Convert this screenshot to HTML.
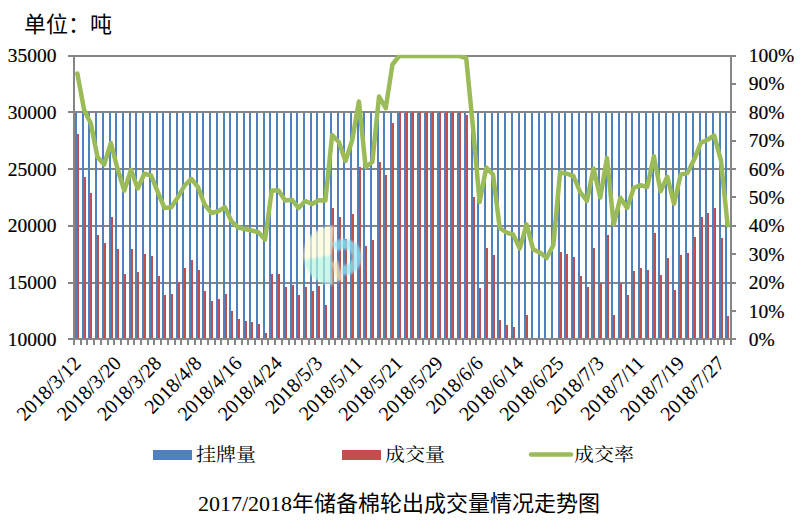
<!DOCTYPE html>
<html><head><meta charset="utf-8"><title>chart</title>
<style>html,body{margin:0;padding:0;background:#fff;}body{width:802px;height:528px;overflow:hidden;}svg{display:block;}</style>
</head><body>
<svg width="802" height="528" viewBox="0 0 802 528">
<rect width="802" height="528" fill="#fff"/>
<rect x="68" y="55" width="664" height="2" fill="#868686"/><rect x="68" y="111" width="664" height="2" fill="#868686"/><rect x="68" y="168" width="664" height="2" fill="#868686"/><rect x="68" y="225" width="664" height="2" fill="#868686"/><rect x="68" y="282" width="664" height="2" fill="#868686"/>
<rect x="75" y="113" width="2" height="225" fill="#4F81BD"/><rect x="77" y="134" width="2" height="204" fill="#C0504D"/><rect x="82" y="113" width="2" height="225" fill="#4F81BD"/><rect x="84" y="177" width="2" height="161" fill="#C0504D"/><rect x="88" y="113" width="2" height="225" fill="#4F81BD"/><rect x="90" y="193" width="2" height="145" fill="#C0504D"/><rect x="95" y="113" width="2" height="225" fill="#4F81BD"/><rect x="97" y="235" width="2" height="103" fill="#C0504D"/><rect x="102" y="113" width="2" height="225" fill="#4F81BD"/><rect x="104" y="243" width="2" height="95" fill="#C0504D"/><rect x="109" y="113" width="2" height="225" fill="#4F81BD"/><rect x="111" y="217" width="2" height="121" fill="#C0504D"/><rect x="115" y="113" width="2" height="225" fill="#4F81BD"/><rect x="117" y="249" width="2" height="89" fill="#C0504D"/><rect x="122" y="113" width="2" height="225" fill="#4F81BD"/><rect x="124" y="274" width="2" height="64" fill="#C0504D"/><rect x="129" y="113" width="2" height="225" fill="#4F81BD"/><rect x="131" y="249" width="2" height="89" fill="#C0504D"/><rect x="135" y="113" width="2" height="225" fill="#4F81BD"/><rect x="137" y="272" width="2" height="66" fill="#C0504D"/><rect x="142" y="113" width="2" height="225" fill="#4F81BD"/><rect x="144" y="254" width="2" height="84" fill="#C0504D"/><rect x="149" y="113" width="2" height="225" fill="#4F81BD"/><rect x="151" y="256" width="2" height="82" fill="#C0504D"/><rect x="156" y="113" width="2" height="225" fill="#4F81BD"/><rect x="158" y="276" width="2" height="62" fill="#C0504D"/><rect x="162" y="113" width="2" height="225" fill="#4F81BD"/><rect x="164" y="295" width="2" height="43" fill="#C0504D"/><rect x="169" y="113" width="2" height="225" fill="#4F81BD"/><rect x="171" y="294" width="2" height="44" fill="#C0504D"/><rect x="176" y="113" width="2" height="225" fill="#4F81BD"/><rect x="178" y="282" width="2" height="56" fill="#C0504D"/><rect x="182" y="113" width="2" height="225" fill="#4F81BD"/><rect x="184" y="268" width="2" height="70" fill="#C0504D"/><rect x="189" y="113" width="2" height="225" fill="#4F81BD"/><rect x="191" y="260" width="2" height="78" fill="#C0504D"/><rect x="196" y="113" width="2" height="225" fill="#4F81BD"/><rect x="198" y="270" width="2" height="68" fill="#C0504D"/><rect x="202" y="113" width="2" height="225" fill="#4F81BD"/><rect x="204" y="291" width="2" height="47" fill="#C0504D"/><rect x="209" y="113" width="2" height="225" fill="#4F81BD"/><rect x="211" y="301" width="2" height="37" fill="#C0504D"/><rect x="216" y="113" width="2" height="225" fill="#4F81BD"/><rect x="218" y="299" width="2" height="39" fill="#C0504D"/><rect x="223" y="113" width="2" height="225" fill="#4F81BD"/><rect x="225" y="294" width="2" height="44" fill="#C0504D"/><rect x="229" y="113" width="2" height="225" fill="#4F81BD"/><rect x="231" y="311" width="2" height="27" fill="#C0504D"/><rect x="236" y="113" width="2" height="225" fill="#4F81BD"/><rect x="238" y="319" width="2" height="19" fill="#C0504D"/><rect x="243" y="113" width="2" height="225" fill="#4F81BD"/><rect x="245" y="321" width="2" height="17" fill="#C0504D"/><rect x="249" y="113" width="2" height="225" fill="#4F81BD"/><rect x="251" y="322" width="2" height="16" fill="#C0504D"/><rect x="256" y="113" width="2" height="225" fill="#4F81BD"/><rect x="258" y="324" width="2" height="14" fill="#C0504D"/><rect x="263" y="113" width="2" height="225" fill="#4F81BD"/><rect x="265" y="333" width="2" height="5" fill="#C0504D"/><rect x="269" y="113" width="2" height="225" fill="#4F81BD"/><rect x="271" y="274" width="2" height="64" fill="#C0504D"/><rect x="276" y="113" width="2" height="225" fill="#4F81BD"/><rect x="278" y="274" width="2" height="64" fill="#C0504D"/><rect x="283" y="113" width="2" height="225" fill="#4F81BD"/><rect x="285" y="287" width="2" height="51" fill="#C0504D"/><rect x="290" y="113" width="2" height="225" fill="#4F81BD"/><rect x="292" y="285" width="2" height="53" fill="#C0504D"/><rect x="296" y="113" width="2" height="225" fill="#4F81BD"/><rect x="298" y="295" width="2" height="43" fill="#C0504D"/><rect x="303" y="113" width="2" height="225" fill="#4F81BD"/><rect x="305" y="287" width="2" height="51" fill="#C0504D"/><rect x="310" y="113" width="2" height="225" fill="#4F81BD"/><rect x="312" y="291" width="2" height="47" fill="#C0504D"/><rect x="316" y="113" width="2" height="225" fill="#4F81BD"/><rect x="318" y="286" width="2" height="52" fill="#C0504D"/><rect x="323" y="113" width="2" height="225" fill="#4F81BD"/><rect x="325" y="305" width="2" height="33" fill="#C0504D"/><rect x="330" y="113" width="2" height="225" fill="#4F81BD"/><rect x="332" y="208" width="2" height="130" fill="#C0504D"/><rect x="337" y="113" width="2" height="225" fill="#4F81BD"/><rect x="339" y="217" width="2" height="121" fill="#C0504D"/><rect x="343" y="113" width="2" height="225" fill="#4F81BD"/><rect x="345" y="239" width="2" height="99" fill="#C0504D"/><rect x="350" y="113" width="2" height="225" fill="#4F81BD"/><rect x="352" y="214" width="2" height="124" fill="#C0504D"/><rect x="357" y="113" width="2" height="225" fill="#4F81BD"/><rect x="359" y="167" width="2" height="171" fill="#C0504D"/><rect x="363" y="113" width="2" height="225" fill="#4F81BD"/><rect x="365" y="246" width="2" height="92" fill="#C0504D"/><rect x="370" y="113" width="2" height="225" fill="#4F81BD"/><rect x="372" y="240" width="2" height="98" fill="#C0504D"/><rect x="377" y="113" width="2" height="225" fill="#4F81BD"/><rect x="379" y="162" width="2" height="176" fill="#C0504D"/><rect x="383" y="113" width="2" height="225" fill="#4F81BD"/><rect x="385" y="175" width="2" height="163" fill="#C0504D"/><rect x="390" y="113" width="2" height="225" fill="#4F81BD"/><rect x="392" y="123" width="2" height="215" fill="#C0504D"/><rect x="397" y="113" width="2" height="225" fill="#4F81BD"/><rect x="399" y="112" width="2" height="226" fill="#C0504D"/><rect x="404" y="113" width="2" height="225" fill="#4F81BD"/><rect x="406" y="112" width="2" height="226" fill="#C0504D"/><rect x="410" y="113" width="2" height="225" fill="#4F81BD"/><rect x="412" y="112" width="2" height="226" fill="#C0504D"/><rect x="417" y="113" width="2" height="225" fill="#4F81BD"/><rect x="419" y="112" width="2" height="226" fill="#C0504D"/><rect x="424" y="113" width="2" height="225" fill="#4F81BD"/><rect x="426" y="112" width="2" height="226" fill="#C0504D"/><rect x="430" y="113" width="2" height="225" fill="#4F81BD"/><rect x="432" y="112" width="2" height="226" fill="#C0504D"/><rect x="437" y="113" width="2" height="225" fill="#4F81BD"/><rect x="439" y="112" width="2" height="226" fill="#C0504D"/><rect x="444" y="113" width="2" height="225" fill="#4F81BD"/><rect x="446" y="112" width="2" height="226" fill="#C0504D"/><rect x="450" y="113" width="2" height="225" fill="#4F81BD"/><rect x="452" y="112" width="2" height="226" fill="#C0504D"/><rect x="457" y="113" width="2" height="225" fill="#4F81BD"/><rect x="459" y="112" width="2" height="226" fill="#C0504D"/><rect x="464" y="113" width="2" height="225" fill="#4F81BD"/><rect x="466" y="115" width="2" height="223" fill="#C0504D"/><rect x="471" y="113" width="2" height="225" fill="#4F81BD"/><rect x="473" y="197" width="2" height="141" fill="#C0504D"/><rect x="477" y="113" width="2" height="225" fill="#4F81BD"/><rect x="479" y="288" width="2" height="50" fill="#C0504D"/><rect x="484" y="113" width="2" height="225" fill="#4F81BD"/><rect x="486" y="248" width="2" height="90" fill="#C0504D"/><rect x="491" y="113" width="2" height="225" fill="#4F81BD"/><rect x="493" y="255" width="2" height="83" fill="#C0504D"/><rect x="497" y="113" width="2" height="225" fill="#4F81BD"/><rect x="499" y="320" width="2" height="18" fill="#C0504D"/><rect x="504" y="113" width="2" height="225" fill="#4F81BD"/><rect x="506" y="325" width="2" height="13" fill="#C0504D"/><rect x="511" y="113" width="2" height="225" fill="#4F81BD"/><rect x="513" y="327" width="2" height="11" fill="#C0504D"/><rect x="518" y="113" width="2" height="225" fill="#4F81BD"/><rect x="524" y="113" width="2" height="225" fill="#4F81BD"/><rect x="526" y="315" width="2" height="23" fill="#C0504D"/><rect x="531" y="113" width="2" height="225" fill="#4F81BD"/><rect x="538" y="113" width="2" height="225" fill="#4F81BD"/><rect x="544" y="113" width="2" height="225" fill="#4F81BD"/><rect x="551" y="113" width="2" height="225" fill="#4F81BD"/><rect x="558" y="113" width="2" height="225" fill="#4F81BD"/><rect x="560" y="252" width="2" height="86" fill="#C0504D"/><rect x="564" y="113" width="2" height="225" fill="#4F81BD"/><rect x="566" y="254" width="2" height="84" fill="#C0504D"/><rect x="571" y="113" width="2" height="225" fill="#4F81BD"/><rect x="573" y="257" width="2" height="81" fill="#C0504D"/><rect x="578" y="113" width="2" height="225" fill="#4F81BD"/><rect x="580" y="276" width="2" height="62" fill="#C0504D"/><rect x="585" y="113" width="2" height="225" fill="#4F81BD"/><rect x="587" y="287" width="2" height="51" fill="#C0504D"/><rect x="591" y="113" width="2" height="225" fill="#4F81BD"/><rect x="593" y="248" width="2" height="90" fill="#C0504D"/><rect x="598" y="113" width="2" height="225" fill="#4F81BD"/><rect x="600" y="283" width="2" height="55" fill="#C0504D"/><rect x="605" y="113" width="2" height="225" fill="#4F81BD"/><rect x="607" y="235" width="2" height="103" fill="#C0504D"/><rect x="611" y="113" width="2" height="225" fill="#4F81BD"/><rect x="613" y="315" width="2" height="23" fill="#C0504D"/><rect x="618" y="113" width="2" height="225" fill="#4F81BD"/><rect x="620" y="283" width="2" height="55" fill="#C0504D"/><rect x="625" y="113" width="2" height="225" fill="#4F81BD"/><rect x="627" y="295" width="2" height="43" fill="#C0504D"/><rect x="631" y="113" width="2" height="225" fill="#4F81BD"/><rect x="633" y="271" width="2" height="67" fill="#C0504D"/><rect x="638" y="113" width="2" height="225" fill="#4F81BD"/><rect x="640" y="268" width="2" height="70" fill="#C0504D"/><rect x="645" y="113" width="2" height="225" fill="#4F81BD"/><rect x="647" y="270" width="2" height="68" fill="#C0504D"/><rect x="652" y="113" width="2" height="225" fill="#4F81BD"/><rect x="654" y="233" width="2" height="105" fill="#C0504D"/><rect x="658" y="113" width="2" height="225" fill="#4F81BD"/><rect x="660" y="275" width="2" height="63" fill="#C0504D"/><rect x="665" y="113" width="2" height="225" fill="#4F81BD"/><rect x="667" y="258" width="2" height="80" fill="#C0504D"/><rect x="672" y="113" width="2" height="225" fill="#4F81BD"/><rect x="674" y="290" width="2" height="48" fill="#C0504D"/><rect x="678" y="113" width="2" height="225" fill="#4F81BD"/><rect x="680" y="255" width="2" height="83" fill="#C0504D"/><rect x="685" y="113" width="2" height="225" fill="#4F81BD"/><rect x="687" y="253" width="2" height="85" fill="#C0504D"/><rect x="692" y="113" width="2" height="225" fill="#4F81BD"/><rect x="694" y="237" width="2" height="101" fill="#C0504D"/><rect x="699" y="113" width="2" height="225" fill="#4F81BD"/><rect x="701" y="217" width="2" height="121" fill="#C0504D"/><rect x="705" y="113" width="2" height="225" fill="#4F81BD"/><rect x="707" y="213" width="2" height="125" fill="#C0504D"/><rect x="712" y="113" width="2" height="225" fill="#4F81BD"/><rect x="714" y="208" width="2" height="130" fill="#C0504D"/><rect x="719" y="113" width="2" height="225" fill="#4F81BD"/><rect x="721" y="238" width="2" height="100" fill="#C0504D"/><rect x="725" y="113" width="2" height="225" fill="#4F81BD"/><rect x="727" y="316" width="2" height="22" fill="#C0504D"/>
<filter id="bl" x="-20%" y="-20%" width="140%" height="140%"><feGaussianBlur stdDeviation="1.2"/></filter>
<g opacity="0.72" filter="url(#bl)"><path d="M334,226 A29,29 0 0,0 304,260 L332,255 Z" fill="#fffbd8"/><path d="M304,260 A29,29 0 0,0 333,285 L332,255 Z" fill="#b5f5e0"/><path d="M334.8,247.8 A13,13 0 1,1 341.7,269.8" fill="none" stroke="#8fe6f7" stroke-width="10"/><path d="M335,262 L340,281" fill="none" stroke="#ffe2b0" stroke-width="6"/></g>
<rect x="73" y="55" width="2" height="285" fill="#868686"/><rect x="730" y="55" width="2" height="285" fill="#868686"/><rect x="68" y="338" width="668" height="2" fill="#868686"/><rect x="73" y="340" width="2" height="5" fill="#868686"/><rect x="80" y="340" width="2" height="5" fill="#868686"/><rect x="86" y="340" width="2" height="5" fill="#868686"/><rect x="93" y="340" width="2" height="5" fill="#868686"/><rect x="100" y="340" width="2" height="5" fill="#868686"/><rect x="107" y="340" width="2" height="5" fill="#868686"/><rect x="113" y="340" width="2" height="5" fill="#868686"/><rect x="120" y="340" width="2" height="5" fill="#868686"/><rect x="127" y="340" width="2" height="5" fill="#868686"/><rect x="133" y="340" width="2" height="5" fill="#868686"/><rect x="140" y="340" width="2" height="5" fill="#868686"/><rect x="147" y="340" width="2" height="5" fill="#868686"/><rect x="153" y="340" width="2" height="5" fill="#868686"/><rect x="160" y="340" width="2" height="5" fill="#868686"/><rect x="167" y="340" width="2" height="5" fill="#868686"/><rect x="174" y="340" width="2" height="5" fill="#868686"/><rect x="180" y="340" width="2" height="5" fill="#868686"/><rect x="187" y="340" width="2" height="5" fill="#868686"/><rect x="194" y="340" width="2" height="5" fill="#868686"/><rect x="200" y="340" width="2" height="5" fill="#868686"/><rect x="207" y="340" width="2" height="5" fill="#868686"/><rect x="214" y="340" width="2" height="5" fill="#868686"/><rect x="220" y="340" width="2" height="5" fill="#868686"/><rect x="227" y="340" width="2" height="5" fill="#868686"/><rect x="234" y="340" width="2" height="5" fill="#868686"/><rect x="241" y="340" width="2" height="5" fill="#868686"/><rect x="247" y="340" width="2" height="5" fill="#868686"/><rect x="254" y="340" width="2" height="5" fill="#868686"/><rect x="261" y="340" width="2" height="5" fill="#868686"/><rect x="267" y="340" width="2" height="5" fill="#868686"/><rect x="274" y="340" width="2" height="5" fill="#868686"/><rect x="281" y="340" width="2" height="5" fill="#868686"/><rect x="288" y="340" width="2" height="5" fill="#868686"/><rect x="294" y="340" width="2" height="5" fill="#868686"/><rect x="301" y="340" width="2" height="5" fill="#868686"/><rect x="308" y="340" width="2" height="5" fill="#868686"/><rect x="314" y="340" width="2" height="5" fill="#868686"/><rect x="321" y="340" width="2" height="5" fill="#868686"/><rect x="328" y="340" width="2" height="5" fill="#868686"/><rect x="334" y="340" width="2" height="5" fill="#868686"/><rect x="341" y="340" width="2" height="5" fill="#868686"/><rect x="348" y="340" width="2" height="5" fill="#868686"/><rect x="355" y="340" width="2" height="5" fill="#868686"/><rect x="361" y="340" width="2" height="5" fill="#868686"/><rect x="368" y="340" width="2" height="5" fill="#868686"/><rect x="375" y="340" width="2" height="5" fill="#868686"/><rect x="381" y="340" width="2" height="5" fill="#868686"/><rect x="388" y="340" width="2" height="5" fill="#868686"/><rect x="395" y="340" width="2" height="5" fill="#868686"/><rect x="401" y="340" width="2" height="5" fill="#868686"/><rect x="408" y="340" width="2" height="5" fill="#868686"/><rect x="415" y="340" width="2" height="5" fill="#868686"/><rect x="422" y="340" width="2" height="5" fill="#868686"/><rect x="428" y="340" width="2" height="5" fill="#868686"/><rect x="435" y="340" width="2" height="5" fill="#868686"/><rect x="442" y="340" width="2" height="5" fill="#868686"/><rect x="448" y="340" width="2" height="5" fill="#868686"/><rect x="455" y="340" width="2" height="5" fill="#868686"/><rect x="462" y="340" width="2" height="5" fill="#868686"/><rect x="469" y="340" width="2" height="5" fill="#868686"/><rect x="475" y="340" width="2" height="5" fill="#868686"/><rect x="482" y="340" width="2" height="5" fill="#868686"/><rect x="489" y="340" width="2" height="5" fill="#868686"/><rect x="495" y="340" width="2" height="5" fill="#868686"/><rect x="502" y="340" width="2" height="5" fill="#868686"/><rect x="509" y="340" width="2" height="5" fill="#868686"/><rect x="515" y="340" width="2" height="5" fill="#868686"/><rect x="522" y="340" width="2" height="5" fill="#868686"/><rect x="529" y="340" width="2" height="5" fill="#868686"/><rect x="536" y="340" width="2" height="5" fill="#868686"/><rect x="542" y="340" width="2" height="5" fill="#868686"/><rect x="549" y="340" width="2" height="5" fill="#868686"/><rect x="556" y="340" width="2" height="5" fill="#868686"/><rect x="562" y="340" width="2" height="5" fill="#868686"/><rect x="569" y="340" width="2" height="5" fill="#868686"/><rect x="576" y="340" width="2" height="5" fill="#868686"/><rect x="583" y="340" width="2" height="5" fill="#868686"/><rect x="589" y="340" width="2" height="5" fill="#868686"/><rect x="596" y="340" width="2" height="5" fill="#868686"/><rect x="603" y="340" width="2" height="5" fill="#868686"/><rect x="609" y="340" width="2" height="5" fill="#868686"/><rect x="616" y="340" width="2" height="5" fill="#868686"/><rect x="623" y="340" width="2" height="5" fill="#868686"/><rect x="629" y="340" width="2" height="5" fill="#868686"/><rect x="636" y="340" width="2" height="5" fill="#868686"/><rect x="643" y="340" width="2" height="5" fill="#868686"/><rect x="650" y="340" width="2" height="5" fill="#868686"/><rect x="656" y="340" width="2" height="5" fill="#868686"/><rect x="663" y="340" width="2" height="5" fill="#868686"/><rect x="670" y="340" width="2" height="5" fill="#868686"/><rect x="676" y="340" width="2" height="5" fill="#868686"/><rect x="683" y="340" width="2" height="5" fill="#868686"/><rect x="690" y="340" width="2" height="5" fill="#868686"/><rect x="696" y="340" width="2" height="5" fill="#868686"/><rect x="703" y="340" width="2" height="5" fill="#868686"/><rect x="710" y="340" width="2" height="5" fill="#868686"/><rect x="717" y="340" width="2" height="5" fill="#868686"/><rect x="723" y="340" width="2" height="5" fill="#868686"/><rect x="730" y="340" width="2" height="5" fill="#868686"/><rect x="732" y="55" width="4" height="2" fill="#868686"/><rect x="732" y="83" width="4" height="2" fill="#868686"/><rect x="732" y="111" width="4" height="2" fill="#868686"/><rect x="732" y="140" width="4" height="2" fill="#868686"/><rect x="732" y="168" width="4" height="2" fill="#868686"/><rect x="732" y="196" width="4" height="2" fill="#868686"/><rect x="732" y="225" width="4" height="2" fill="#868686"/><rect x="732" y="253" width="4" height="2" fill="#868686"/><rect x="732" y="282" width="4" height="2" fill="#868686"/><rect x="732" y="310" width="4" height="2" fill="#868686"/>
<clipPath id="pc"><rect x="60" y="54.7" width="700" height="300"/></clipPath>
<polyline clip-path="url(#pc)" points="77.35,73.5 84.06,109.7 90.76,123.2 97.46,157 104.17,164.5 110.87,143 117.58,169 124.28,190.5 130.98,169.7 137.69,188.5 144.39,173.8 151.10,175.5 157.80,192.2 164.51,208 171.21,207.2 177.91,197.2 184.62,185.5 191.32,178.8 198.03,187.2 204.73,204.7 211.43,213 218.14,211.3 224.84,207.2 231.55,221.3 238.25,227.5 244.95,229 251.66,230.5 258.36,232.2 265.07,239.5 271.77,190.5 278.47,190.5 285.18,200.5 291.88,199.7 298.59,208 305.29,201 311.99,204 318.70,200.3 325.40,200.5 332.11,135 338.81,142 345.52,161 352.22,140 358.92,101.5 365.63,167 372.33,162 379.04,96.5 385.74,108.2 392.44,64.5 399.15,56 405.85,56 412.56,56 419.26,56 425.96,56 432.67,56 439.37,56 446.08,56 452.78,56 459.48,56 466.19,58 472.89,126.5 479.60,202 486.30,167.5 493.01,174.5 499.71,228 506.41,232.5 513.12,234.5 519.82,248.5 526.53,224.5 533.23,249.5 539.93,252.5 546.64,258 553.34,245 560.05,172.5 566.75,173.7 573.45,176 580.16,192 586.86,201 593.57,168.5 600.27,197.5 606.97,158 613.68,224.4 620.38,197.8 627.09,208 633.79,188 640.49,185.2 647.20,187 653.90,156.3 660.61,191.3 667.31,176.8 674.02,203.8 680.72,174.6 687.42,172.9 694.13,159.6 700.83,142.9 707.54,139.75 714.24,135.5 720.94,160.5 727.65,225.4" fill="none" stroke="#9BBB59" stroke-width="4.5" stroke-linejoin="round" stroke-linecap="round"/>
<g font-family="'Liberation Serif', serif" font-size="19.5" fill="#000" stroke="#000" stroke-width="0.2"><text x="56.6" y="62.00" text-anchor="end">35000</text><text x="56.6" y="118.75" text-anchor="end">30000</text><text x="56.6" y="175.50" text-anchor="end">25000</text><text x="56.6" y="232.25" text-anchor="end">20000</text><text x="56.6" y="289.00" text-anchor="end">15000</text><text x="56.6" y="345.75" text-anchor="end">10000</text><text x="748.8" y="346.0">0%</text><text x="748.8" y="317.6">10%</text><text x="748.8" y="289.2">20%</text><text x="748.8" y="260.8">30%</text><text x="748.8" y="232.4">40%</text><text x="748.8" y="204.0">50%</text><text x="748.8" y="175.6">60%</text><text x="748.8" y="147.2">70%</text><text x="748.8" y="118.8">80%</text><text x="748.8" y="90.4">90%</text><text x="748.8" y="62.0">100%</text><text transform="translate(82.15,364.5) rotate(-45)" text-anchor="end" font-size="20" stroke-width="0.05">2018/3/12</text><text transform="translate(122.38,364.5) rotate(-45)" text-anchor="end" font-size="20" stroke-width="0.05">2018/3/20</text><text transform="translate(162.60,364.5) rotate(-45)" text-anchor="end" font-size="20" stroke-width="0.05">2018/3/28</text><text transform="translate(202.83,364.5) rotate(-45)" text-anchor="end" font-size="20" stroke-width="0.05">2018/4/8</text><text transform="translate(243.05,364.5) rotate(-45)" text-anchor="end" font-size="20" stroke-width="0.05">2018/4/16</text><text transform="translate(283.27,364.5) rotate(-45)" text-anchor="end" font-size="20" stroke-width="0.05">2018/4/24</text><text transform="translate(323.50,364.5) rotate(-45)" text-anchor="end" font-size="20" stroke-width="0.05">2018/5/3</text><text transform="translate(363.72,364.5) rotate(-45)" text-anchor="end" font-size="20" stroke-width="0.05">2018/5/11</text><text transform="translate(403.95,364.5) rotate(-45)" text-anchor="end" font-size="20" stroke-width="0.05">2018/5/21</text><text transform="translate(444.17,364.5) rotate(-45)" text-anchor="end" font-size="20" stroke-width="0.05">2018/5/29</text><text transform="translate(484.40,364.5) rotate(-45)" text-anchor="end" font-size="20" stroke-width="0.05">2018/6/6</text><text transform="translate(524.62,364.5) rotate(-45)" text-anchor="end" font-size="20" stroke-width="0.05">2018/6/14</text><text transform="translate(564.85,364.5) rotate(-45)" text-anchor="end" font-size="20" stroke-width="0.05">2018/6/25</text><text transform="translate(605.07,364.5) rotate(-45)" text-anchor="end" font-size="20" stroke-width="0.05">2018/7/3</text><text transform="translate(645.29,364.5) rotate(-45)" text-anchor="end" font-size="20" stroke-width="0.05">2018/7/11</text><text transform="translate(685.52,364.5) rotate(-45)" text-anchor="end" font-size="20" stroke-width="0.05">2018/7/19</text><text transform="translate(725.74,364.5) rotate(-45)" text-anchor="end" font-size="20" stroke-width="0.05">2018/7/27</text></g>
<text x="24" y="32" font-family="'Noto Sans CJK SC', sans-serif" font-size="22" fill="#000">单位：吨</text>
<rect x="153" y="450" width="39" height="10" fill="#4F81BD"/>
<rect x="342" y="450" width="39" height="10" fill="#C0504D"/>
<line x1="531" y1="454.5" x2="571" y2="454.5" stroke="#9BBB59" stroke-width="4.5" stroke-linecap="round"/>
<g font-family="'Liberation Serif','Noto Serif CJK SC', serif" font-size="20" fill="#000">
<text transform="translate(196,461) scale(1,0.9)">挂牌量</text><text transform="translate(385,461) scale(1,0.9)">成交量</text><text transform="translate(574,461) scale(1,0.9)">成交率</text></g>
<text x="198" y="511" font-family="'Liberation Serif','Noto Sans CJK SC', sans-serif" font-size="22" fill="#000">2017/2018年储备棉轮出成交量情况走势图</text>
</svg>
</body></html>
